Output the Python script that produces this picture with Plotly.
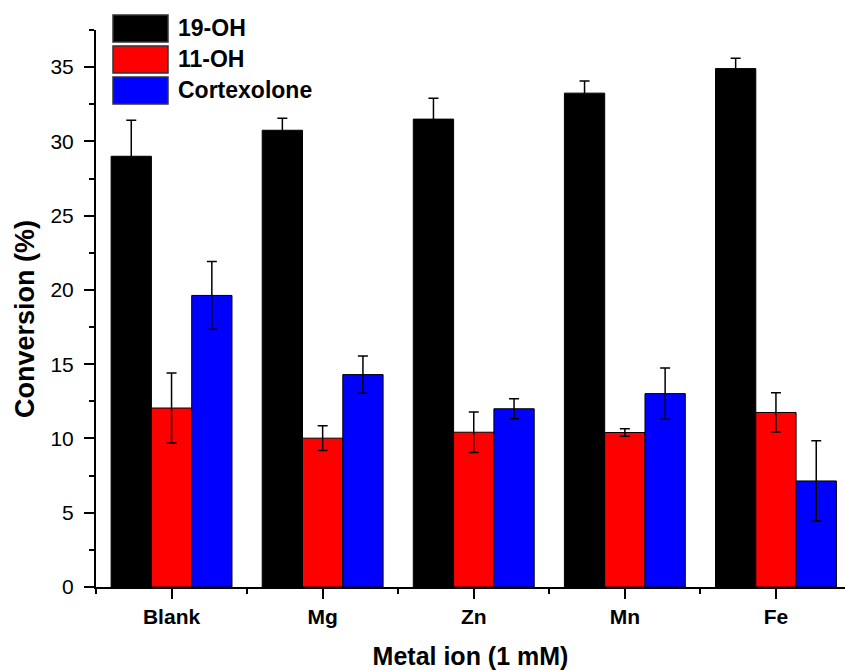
import plotly.graph_objects as go

# Categories and series
metal_ions = ["Blank", "Mg", "Zn", "Mn", "Fe"]
series_names = ["19-OH", "11-OH", "Cortexolone"]
series_colors = ["#000000", "#FF0000", "#0000FF"]

conv_19oh = [29.0, 30.75, 31.5, 33.25, 34.9]
err_19oh = [2.42, 0.81, 1.4, 0.81, 0.69]

conv_11oh = [12.05, 10.02, 10.42, 10.4, 11.75]
err_11oh = [2.36, 0.83, 1.37, 0.25, 1.32]

conv_cortexolone = [19.63, 14.3, 12.0, 13.02, 7.14]
err_cortexolone = [2.28, 1.25, 0.67, 1.72, 2.7]

y_ticks = [0, 5, 10, 15, 20, 25, 30, 35]

values = [conv_19oh, conv_11oh, conv_cortexolone]
errors = [err_19oh, err_11oh, err_cortexolone]

FONT = "Liberation Sans, Arial, Helvetica, sans-serif"
W, H = 845, 670
M_L, M_R, M_T, M_B = 96, 0, 30, 83
plot_w = W - M_L - M_R
plot_h = H - M_T - M_B

x_pos = list(range(len(metal_ions)))

fig = go.Figure()
for name, color, vals, errs in zip(series_names, series_colors, values, errors):
    fig.add_trace(go.Bar(
        x=x_pos,
        y=vals,
        name=name,
        marker=dict(color=color, line=dict(color="#000000", width=1)),
        error_y=dict(type="data", array=errs, visible=True,
                     color="#000000", thickness=1.5, width=5),
        showlegend=False,
    ))


def px_to_paper(px, py):
    return (px - M_L) / plot_w, (H - M_B - py) / plot_h


# Legend box drawn as swatches + labels
shapes = []
annotations = []
sw_left, sw_right, row_top0, row_pitch, sw_h = 113, 168, 15, 31, 27
for i, (name, color) in enumerate(zip(series_names, series_colors)):
    top = row_top0 + i * row_pitch
    x0, y1 = px_to_paper(sw_left, top)
    x1, y0 = px_to_paper(sw_right, top + sw_h)
    shapes.append(dict(type="rect", xref="paper", yref="paper",
                       x0=x0, x1=x1, y0=y0, y1=y1,
                       fillcolor=color, line=dict(color="#333333", width=1.5)))
    tx, ty = px_to_paper(176, top + sw_h / 2)
    annotations.append(dict(xref="paper", yref="paper", x=tx, y=ty,
                            text=name, showarrow=False,
                            xanchor="left", yanchor="middle",
                            font=dict(family=FONT, size=23, color="#000000",
                                      weight="bold")))

# Y-axis title as a rotated label
yt_x, yt_y = px_to_paper(25, 319)
annotations.append(dict(xref="paper", yref="paper", x=yt_x, y=yt_y,
                        text="Conversion (%)", showarrow=False, textangle=-90,
                        xanchor="center", yanchor="middle",
                        font=dict(family=FONT, size=27, color="#000000",
                                  weight="bold")))

fig.update_layout(
    width=W, height=H,
    margin=dict(l=M_L, r=M_R, t=M_T, b=M_B, pad=0),
    paper_bgcolor="white", plot_bgcolor="white",
    barmode="group", bargap=0.2, bargroupgap=0,
    shapes=shapes, annotations=annotations,
    font=dict(family=FONT, color="#000000"),
)

fig.update_xaxes(
    range=[-0.5, 4.457],
    tickmode="array", tickvals=x_pos, ticktext=metal_ions,
    ticks="outside", ticklen=10, tickwidth=2, tickcolor="#000000",
    minor=dict(tickmode="array", tickvals=[-0.5, 0.5, 1.5, 2.5, 3.5],
               ticks="outside", ticklen=5, tickwidth=2, tickcolor="#000000"),
    showline=True, linecolor="#000000", linewidth=2,
    showgrid=False, zeroline=False,
    tickfont=dict(family=FONT, size=21, color="#000000", weight="bold"),
    title=dict(text="Metal ion (1 mM)", standoff=20,
               font=dict(family=FONT, size=25, color="#000000", weight="bold")),
)

fig.update_yaxes(
    range=[0, 37.5],
    tickmode="array", tickvals=y_ticks,
    ticks="outside", ticklen=10, tickwidth=2, tickcolor="#000000",
    minor=dict(tickmode="linear", tick0=0, dtick=2.5,
               ticks="outside", ticklen=5, tickwidth=2, tickcolor="#000000"),
    showline=True, linecolor="#000000", linewidth=2,
    showgrid=False, zeroline=False,
    tickfont=dict(family=FONT, size=21, color="#000000"),
    ticklabelstandoff=6,
)

fig.write_html("out.html")
